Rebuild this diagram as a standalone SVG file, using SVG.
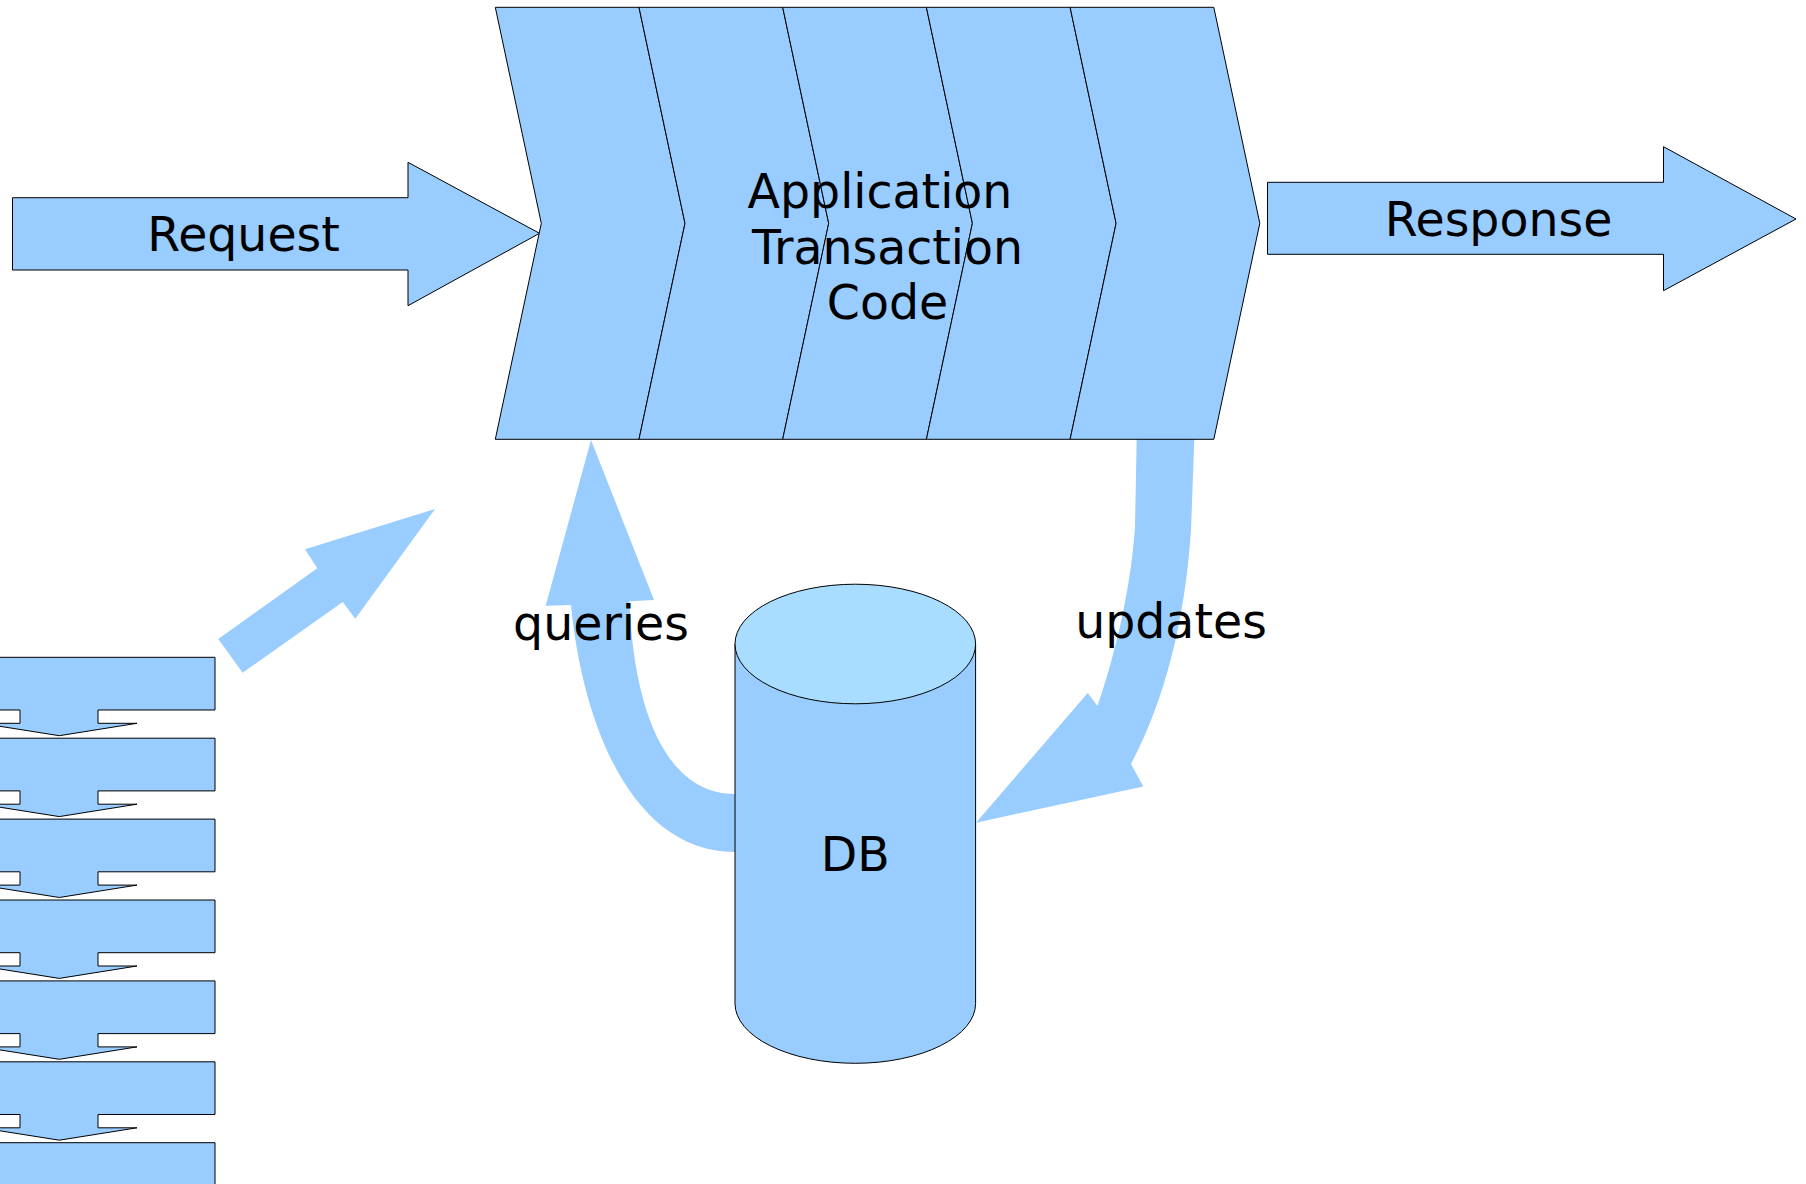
<svg xmlns="http://www.w3.org/2000/svg" xmlns:xlink="http://www.w3.org/1999/xlink" width="1806" height="1184" viewBox="0 0 1806 1184">
<style>
.shape{fill:#99ccff;stroke:#000;stroke-width:1;stroke-linejoin:miter}
.flow{fill:#99ccff;stroke:none}
.top{fill:#a8ddff;stroke:#000;stroke-width:1}
.lbl{font-family:"DejaVu Sans","Liberation Sans",sans-serif;font-size:47.4px;fill:#000;text-anchor:middle}
</style>
<defs>
<path id="callout" d="M-100,0 H215 V52.7 H98 V66 H137 L59.3,78.4 L-19,66 H20 V52.7 H-100 Z"/>
<path id="chev" d="M0,7.3 H143.7 L189.7,223.3 L143.7,439.3 H0 L46,223.3 Z"/>
</defs>
<rect width="1806" height="1184" fill="#fff"/>

<g id="stack">
<use xlink:href="#callout" class="shape" transform="translate(0,657.3)"/>
<use xlink:href="#callout" class="shape" transform="translate(0,738.2)"/>
<use xlink:href="#callout" class="shape" transform="translate(0,819.1)"/>
<use xlink:href="#callout" class="shape" transform="translate(0,900)"/>
<use xlink:href="#callout" class="shape" transform="translate(0,980.9)"/>
<use xlink:href="#callout" class="shape" transform="translate(0,1061.8)"/>
<use xlink:href="#callout" class="shape" transform="translate(0,1142.7)"/>
</g>

<g id="request">
<path class="shape" d="M12.5,197.7 H408 V162.3 L539.5,233.3 L408,305.7 V270 H12.5 Z"/>
<text class="lbl" x="243.6" y="251">Request</text>
</g>

<g id="response">
<path class="shape" d="M1267.5,182.3 H1663.5 V146.7 L1796,219 L1663.5,290.7 V254.3 H1267.5 Z"/>
<text class="lbl" x="1498.5" y="236">Response</text>
</g>

<g id="connectors">
<path id="diag" class="flow" d="M218.3,639 L242.7,672.7 L342.7,602 L355.3,618.7 L435,509 L305,549.3 L317.3,568.3 Z"/>
<path id="queries-arrow" class="flow" d="M735,852 C630,852 582,720 571,605 L545.7,605.7 L591,440 L654,600 L629.3,601.3 C635,730 675,794 735,794 Z"/>
<path id="updates-arrow" class="flow" d="M1136.7,439 L1194.3,439 L1191,530 C1185,620 1165,700 1131,764 L1143.3,786.5 L976,822.7 L1087.7,693 L1097.5,706 C1110,670 1130,600 1135,527 Z"/>
</g>

<g id="app">
<use xlink:href="#chev" class="shape" transform="translate(495.3,0)"/>
<use xlink:href="#chev" class="shape" transform="translate(639,0)"/>
<use xlink:href="#chev" class="shape" transform="translate(782.7,0)"/>
<use xlink:href="#chev" class="shape" transform="translate(926.4,0)"/>
<use xlink:href="#chev" class="shape" transform="translate(1070.1,0)"/>
<text class="lbl"><tspan x="880" y="208">Application</tspan><tspan x="887.5" y="264">Transaction</tspan><tspan x="887.5" y="319">Code</tspan></text>
</g>

<g id="db">
<path class="shape" d="M735,644 V1003.5 A120.3,59.8 0 0 0 975.6,1003.5 V644"/>
<ellipse class="top" cx="855.3" cy="644" rx="120.3" ry="59.8"/>
<text class="lbl" x="855.3" y="871">DB</text>
</g>

<g id="labels">
<text class="lbl" x="601" y="640">queries</text>
<text class="lbl" x="1171" y="638">updates</text>
</g>
</svg>
